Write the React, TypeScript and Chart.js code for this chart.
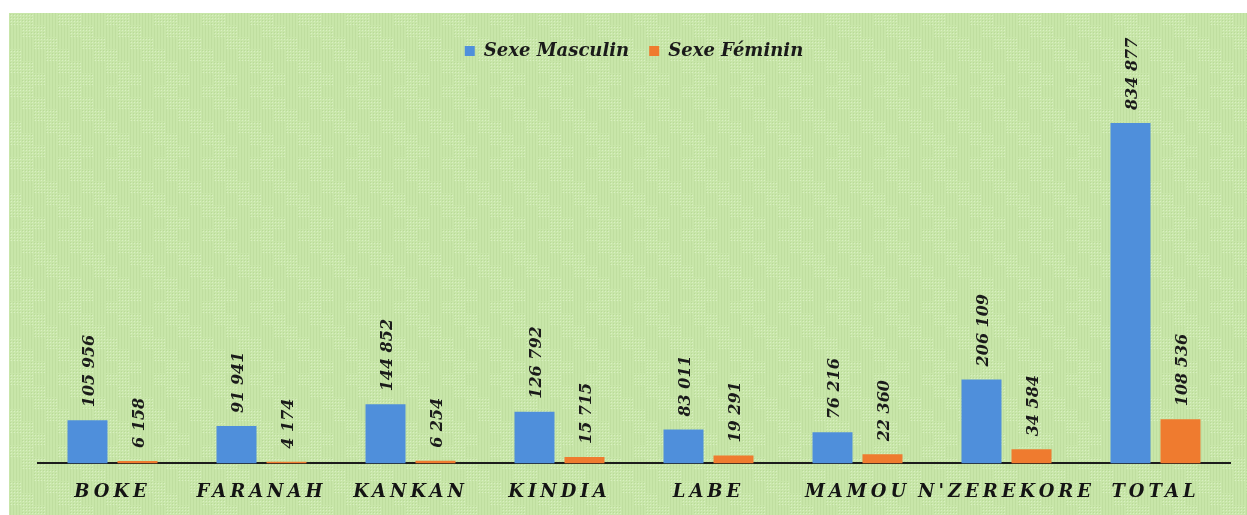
import React, { useEffect, useRef } from 'react';
import { Chart, registerables } from 'chart.js';

Chart.register(...registerables);

const categories = ['BOKE', 'FARANAH', 'KANKAN', 'KINDIA', 'LABE', 'MAMOU', "N'ZEREKORE", 'TOTAL'];
const masculin = [105956, 91941, 144852, 126792, 83011, 76216, 206109, 834877];
const feminin = [6158, 4174, 6254, 15715, 19291, 22360, 34584, 108536];
const seriesLabels = ['Sexe Masculin', 'Sexe Féminin'];
const yMax = 965000;

const BLUE = '#4f8fdb';
const ORANGE = '#ef7b2f';
const FONT = '"DejaVu Serif", serif';

function fmt(v: number): string {
  return String(v).replace(/\B(?=(\d{3})+(?!\d))/g, ' ');
}

function makePattern(ctx: CanvasRenderingContext2D): CanvasPattern | string {
  const c = document.createElement('canvas');
  const S = 12;
  c.width = S * 8;
  c.height = S * 6;
  const g = c.getContext('2d');
  if (!g) return '#c9e6aa';
  g.fillStyle = '#c8e6a9';
  g.fillRect(0, 0, c.width, c.height);
  for (let by = 0; by < 6; by++) {
    for (let bx = 0; bx < 8; bx++) {
      const kind = (bx * 3 + by * 5 + ((bx + by) % 2)) % 4;
      const x0 = bx * S;
      const y0 = by * S;
      if (kind === 0) {
        g.fillStyle = '#b9da98';
        for (let yy = 1; yy < S; yy += 3) for (let xx = 1; xx < S; xx += 3) g.fillRect(x0 + xx, y0 + yy, 1, 1);
        g.fillStyle = '#d9f0c2';
        for (let yy = 2; yy < S; yy += 3) for (let xx = 2; xx < S; xx += 3) g.fillRect(x0 + xx, y0 + yy, 1, 1);
      } else if (kind === 1) {
        g.fillStyle = '#d2ecb8';
        for (let yy = 1; yy < S; yy += 3) g.fillRect(x0, y0 + yy, S, 1);
      } else if (kind === 2) {
        g.fillStyle = '#bfde9f';
        for (let xx = 1; xx < S; xx += 3) g.fillRect(x0 + xx, y0, 1, S);
      } else {
        g.fillStyle = '#cdeab0';
        g.fillRect(x0, y0, S, S);
      }
    }
  }
  return ctx.createPattern(c, 'repeat') || '#c9e6aa';
}

const backgroundPlugin = {
  id: 'bgPattern',
  beforeDraw(chart: any) {
    const ctx = chart.ctx;
    ctx.save();
    ctx.fillStyle = makePattern(ctx);
    ctx.fillRect(0, 0, chart.width, chart.height);
    ctx.restore();
  },
};

const labelPlugin = {
  id: 'valueLabels',
  afterDatasetsDraw(chart: any) {
    const ctx = chart.ctx;
    ctx.save();
    ctx.font = `italic bold 16px ${FONT}`;
    ctx.fillStyle = '#1a1a1a';
    ctx.textAlign = 'left';
    ctx.textBaseline = 'middle';
    chart.data.datasets.forEach((ds: any, di: number) => {
      const meta = chart.getDatasetMeta(di);
      meta.data.forEach((el: any, i: number) => {
        const v = ds.data[i];
        ctx.save();
        ctx.translate(el.x + 2, el.y - 13);
        ctx.rotate(-Math.PI / 2);
        ctx.fillText(fmt(v), 0, 0);
        ctx.restore();
      });
    });
    ctx.restore();
    // letter spacing for the x tick labels drawn in a later layer
    (ctx as any).letterSpacing = '4px';
  },
  afterDraw(chart: any) {
    (chart.ctx as any).letterSpacing = '0px';
  },
};

export default function App() {
  const ref = useRef<HTMLCanvasElement | null>(null);

  useEffect(() => {
    if (!ref.current) return;
    const chart = new Chart(ref.current, {
      type: 'bar',
      data: {
        labels: categories,
        datasets: [
          { label: seriesLabels[0], data: masculin, backgroundColor: BLUE, borderWidth: 0 },
          { label: seriesLabels[1], data: feminin, backgroundColor: ORANGE, borderWidth: 0 },
        ],
      },
      options: {
        animation: false,
        responsive: true,
        maintainAspectRatio: false,
        datasets: {
          bar: { categoryPercentage: 0.671, barPercentage: 0.8 },
        },
        layout: { padding: { left: 29, right: 17, top: 9, bottom: -6 } },
        plugins: {
          tooltip: { enabled: false },
          legend: {
            position: 'top',
            align: 'center',
            labels: {
              boxWidth: 10,
              boxHeight: 10,
              padding: 20,
              color: '#1a1a1a',
              font: { family: FONT, size: 18, style: 'italic', weight: 'bold' },
            },
          },
        },
        scales: {
          x: {
            grid: { display: false, drawTicks: false },
            border: { display: true, color: '#1c1c1c', width: 2 },
            ticks: {
              z: 1,
              padding: 18,
              color: '#141414',
              maxRotation: 0,
              autoSkip: false,
              font: { family: FONT, size: 18, style: 'italic', weight: 'bold' },
            },
          },
          y: {
            display: false,
            min: 0,
            max: yMax,
            grid: { display: false },
          },
        },
      },
      plugins: [backgroundPlugin, labelPlugin],
    });
    return () => chart.destroy();
  }, []);

  return (
    <div style={{ position: 'absolute', left: 9, top: 13, width: 1238, height: 502 }}>
      <canvas ref={ref} />
    </div>
  );
}
